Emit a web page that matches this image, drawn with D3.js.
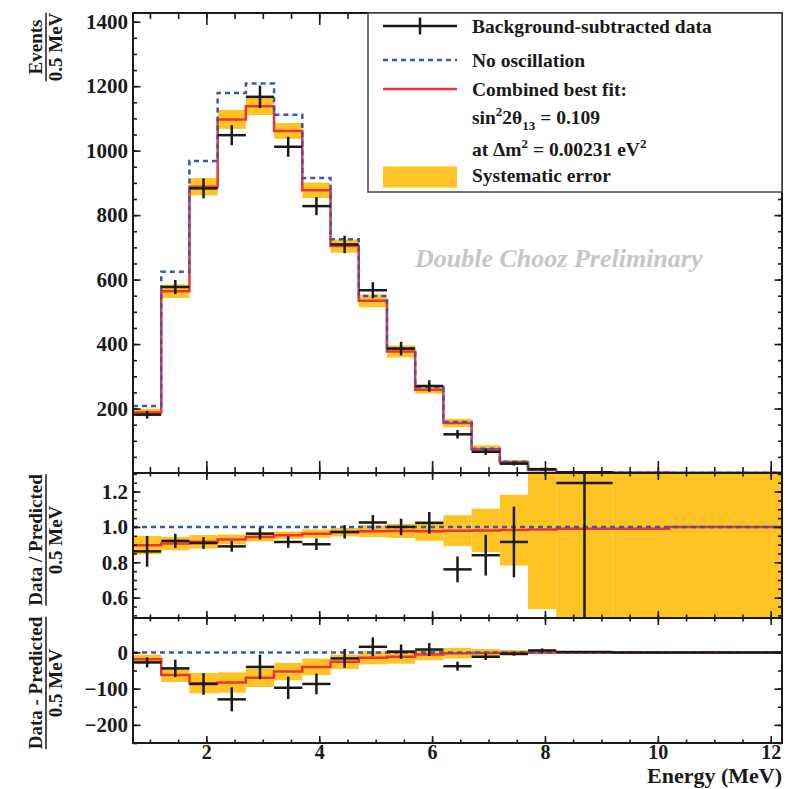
<!DOCTYPE html>
<html lang="en">
<head>
<meta charset="utf-8">
<script src="https://d3js.org/d3.v7.min.js"></script>
<style type="text/css">
body {
	margin: 0;
	background-color: white;
}
svg text {
	font-family: "Liberation Serif", "Times New Roman", serif;
	font-weight: bold;
	fill: #1a1a1a;
}
</style>
</head>
<body>

<svg id="chart" width="810" height="789"></svg>

<script type="text/javascript">

// bin edges in MeV (18 bins)
var binEdges = [0.7, 1.2, 1.7, 2.2, 2.7, 3.2, 3.7, 4.2, 4.7, 5.2, 5.7, 6.2, 6.7, 7.2, 7.7, 8.2, 9.2, 10.2, 12.2];

// top panel: events / 0.5 MeV
var dataEvents  = [181, 577, 883, 1048, 1167, 1012, 828, 709, 567, 386, 270, 120, 66, 29, 12, 2, 0, 0];
var dataErr     = [12, 22, 31, 31, 35, 31, 28, 27, 25, 21, 18, 13, 10, 6, 4, 3, 1, 1];
var noOsc       = [208, 624, 968, 1179, 1208, 1111, 915, 725, 549, 386, 267, 158, 75, 35, 10, 1.6, 0.6, 0.3];
var bestFit     = [188, 564, 888, 1097, 1138, 1061, 877, 704, 534, 377, 258, 155, 74, 33, 9, 1.5, 0.6, 0.3];
var systErr     = [11.5, 21, 27, 29.5, 27.5, 24.5, 24, 20.5, 19.5, 18.5, 11.5, 13, 12, 7.5, 4, 2, 1, 0.5];

// middle panel: data / predicted
var ratioData   = [0.862, 0.921, 0.909, 0.89, 0.962, 0.915, 0.902, 0.972, 1.025, 1.0, 1.023, 0.76, 0.84, 0.915, null, 1.249, null, null];
var ratioErr    = [0.087, 0.04, 0.033, 0.03, 0.033, 0.033, 0.033, 0.038, 0.042, 0.047, 0.061, 0.073, 0.115, 0.2, null, 5, null, null];
var ratioFit    = [0.897, 0.906, 0.916, 0.929, 0.943, 0.953, 0.962, 0.97, 0.976, 0.977, 0.976, 0.979, 0.98, 0.982, 0.985, 0.99, 0.99, 1.0];
var ratioSyst   = [0.052, 0.038, 0.038, 0.028, 0.025, 0.021, 0.024, 0.024, 0.033, 0.04, 0.054, 0.087, 0.123, 0.2, 0.45, 2, 2, 2];
var ratioNoOsc  = [1, 1, 1, 1, 1, 1, 1, 1, 1, 1, 1, 1, 1, 1, 1, 1, 1, 1];

// bottom panel: data - predicted
var diffData    = [-27.5, -44, -87, -129.5, -40, -97.5, -87, -16.5, 15.5, 2, 8, -38, -12, -4, 5.5, 1, 0, 0];
var diffErr     = [14, 24, 30, 33, 34, 31, 28.5, 26, 26, 20, 18, 12.4, 9, 5, 5.5, 3, 1, 1];
var diffFit     = [-19, -62.5, -85, -83, -70, -53, -40, -26, -15, -12, -5.5, -2, -1.5, -1, 0, 0, 0, 0];
var diffSyst    = [12.5, 19, 28, 28, 25.5, 24, 23, 20, 18, 19, 16, 14.6, 11, 7.5, 5, 1, 1, 1];
var diffNoOsc   = [0, 0, 0, 0, 0, 0, 0, 0, 0, 0, 0, 0, 0, 0, 0, 0, 0, 0];

// ticks
var xMajor = [2, 4, 6, 8, 10, 12];
var topYTicks = [200, 400, 600, 800, 1000, 1200, 1400];
var ratioYTicks = [0.6, 0.8, 1.0, 1.2];
var diffYTicks = [-200, -100, 0];

var YELLOW = "#fec423";
var RED = "#ee3338";
var BLUE = "#3f55b0";
var INK = "#1a1a1a";

var svg = d3.select("#chart");

var x = d3.scaleLinear().domain([0.7, 12.2]).range([133, 782]);

var panels = [
	{ id: "top", y: d3.scaleLinear().domain([0, 1427]).range([473, 13]),
	  data: dataEvents, err: dataErr, fit: bestFit, syst: systErr, ref: noOsc,
	  major: topYTicks, minorStep: 50, fmt: d3.format("d"), xLen: 12, xMin: 6 },
	{ id: "ratio", y: d3.scaleLinear().domain([0.485, 1.305]).range([618, 473]),
	  data: ratioData, err: ratioErr, fit: ratioFit, syst: ratioSyst, ref: ratioNoOsc,
	  major: ratioYTicks, minorStep: 0.05, fmt: d3.format(".1f"), xLen: 7, xMin: 3.5 },
	{ id: "diff", y: d3.scaleLinear().domain([-250, 95]).range([743, 618]),
	  data: diffData, err: diffErr, fit: diffFit, syst: diffSyst, ref: diffNoOsc,
	  major: diffYTicks, minorStep: 50, fmt: d3.format("d"), xLen: 7, xMin: 3.5 }
];

var bins = d3.range(binEdges.length - 1).map(function(i) {
	return { lo: binEdges[i], hi: binEdges[i + 1], mid: (binEdges[i] + binEdges[i + 1]) / 2, i: i };
});

function stepPoints(vals) {
	var pts = vals.map(function(v, i) { return [binEdges[i], v]; });
	pts.push([binEdges[binEdges.length - 1], vals[vals.length - 1]]);
	return pts;
}

panels.forEach(function(p, k) {
	var y = p.y;
	var y0 = y.range()[1], y1 = y.range()[0];

	svg.append("clipPath").attr("id", "clip-" + p.id)
		.append("rect").attr("x", 133).attr("y", y0).attr("width", 649).attr("height", y1 - y0);

	var g = svg.append("g").attr("clip-path", "url(#clip-" + p.id + ")");

	// systematic band
	g.selectAll("rect.band")
		.data(bins)
		.join("rect")
		.attr("class", "band")
		.attr("x", function(d) { return x(d.lo); })
		.attr("width", function(d) { return x(d.hi) - x(d.lo); })
		.attr("y", function(d) { return y(p.fit[d.i] + p.syst[d.i]); })
		.attr("height", function(d) { return y(p.fit[d.i] - p.syst[d.i]) - y(p.fit[d.i] + p.syst[d.i]); })
		.style("fill", YELLOW);

	var line = d3.line()
		.x(function(d) { return x(d[0]); })
		.y(function(d) { return y(d[1]); })
		.curve(d3.curveStepAfter);

	// best fit
	g.append("path")
		.attr("d", line(stepPoints(p.fit)))
		.style("fill", "none")
		.style("stroke", RED)
		.style("stroke-width", 2.5);

	// no oscillation
	g.append("path")
		.attr("d", line(stepPoints(p.ref)))
		.style("fill", "none")
		.style("stroke", BLUE)
		.style("stroke-width", 2.5)
		.style("stroke-dasharray", "5,4");

	// data crosses
	var pts = bins.filter(function(d) { return p.data[d.i] !== null; });
	g.selectAll("line.xerr")
		.data(pts)
		.join("line")
		.attr("class", "xerr")
		.attr("x1", function(d) { return x(d.lo); })
		.attr("x2", function(d) { return x(d.hi); })
		.attr("y1", function(d) { return y(p.data[d.i]); })
		.attr("y2", function(d) { return y(p.data[d.i]); })
		.style("stroke", INK)
		.style("stroke-width", 2.5);
	g.selectAll("line.yerr")
		.data(pts)
		.join("line")
		.attr("class", "yerr")
		.attr("x1", function(d) { return x(d.mid); })
		.attr("x2", function(d) { return x(d.mid); })
		.attr("y1", function(d) { return y(p.data[d.i] - p.err[d.i]); })
		.attr("y2", function(d) { return y(p.data[d.i] + p.err[d.i]); })
		.style("stroke", INK)
		.style("stroke-width", 2.5);

	// axes, ticks on all four sides pointing inward
	var minor = d3.range(Math.ceil(y.domain()[0] / p.minorStep) * p.minorStep, y.domain()[1], p.minorStep);
	var xMinor = d3.range(1, 12.01, 0.5);
	var isBottom = (k === panels.length - 1);

	function addAxis(axis, tx, ty) {
		var a = svg.append("g").attr("transform", "translate(" + tx + "," + ty + ")").call(axis);
		a.select(".domain").remove();
		a.selectAll("line").style("stroke", INK).style("stroke-width", 1.6);
		return a;
	}

	addAxis(d3.axisBottom(x).tickValues(xMinor).tickSize(-p.xMin).tickFormat(""), 0, y1);
	var xb = addAxis(d3.axisBottom(x).tickValues(xMajor).tickSize(-p.xLen).tickPadding(2)
		.tickFormat(isBottom ? d3.format("d") : ""), 0, y1);
	addAxis(d3.axisTop(x).tickValues(xMinor).tickSize(-p.xMin).tickFormat(""), 0, y0);
	addAxis(d3.axisTop(x).tickValues(xMajor).tickSize(-p.xLen).tickFormat(""), 0, y0);

	addAxis(d3.axisLeft(y).tickValues(minor).tickSize(-4).tickFormat(""), 133, 0);
	var yl = addAxis(d3.axisLeft(y).tickValues(p.major).tickSize(-7.5).tickPadding(5).tickFormat(p.fmt), 133, 0);
	addAxis(d3.axisRight(y).tickValues(minor).tickSize(-4).tickFormat(""), 782, 0);
	addAxis(d3.axisRight(y).tickValues(p.major).tickSize(-7.5).tickFormat(""), 782, 0);

	yl.selectAll("text").style("font-size", "21px").style("font-family", null).attr("fill", INK);
	xb.selectAll("text").style("font-size", "20px").style("font-family", null).attr("fill", INK);

	svg.append("rect")
		.attr("x", 133).attr("y", y0)
		.attr("width", 649).attr("height", y1 - y0)
		.style("fill", "none")
		.style("stroke", INK)
		.style("stroke-width", 2);
});

// y titles as stacked fractions
var yTitles = [
	{ num: "Events", den: "0.5 MeV", cy: 47 },
	{ num: "Data / Predicted", den: "0.5 MeV", cy: 540 },
	{ num: "Data - Predicted", den: "0.5 MeV", cy: 683 }
];
yTitles.forEach(function(t) {
	var g = svg.append("g").attr("transform", "translate(46," + t.cy + ") rotate(-90)");
	var n = g.append("text").attr("text-anchor", "middle").attr("y", -4)
		.style("font-size", "19px").text(t.num);
	var dnm = g.append("text").attr("text-anchor", "middle").attr("y", 16)
		.style("font-size", "19px").text(t.den);
	var w = Math.max(n.node().getComputedTextLength(), dnm.node().getComputedTextLength());
	g.append("line").attr("x1", -w / 2).attr("x2", w / 2).attr("y1", 0).attr("y2", 0)
		.style("stroke", INK).style("stroke-width", 1.5);
});

// x title
svg.append("text")
	.attr("x", 782).attr("y", 783)
	.attr("text-anchor", "end")
	.style("font-size", "22px")
	.text("Energy (MeV)");

// watermark
svg.append("text")
	.attr("x", 415).attr("y", 267)
	.style("font-size", "26px")
	.style("font-style", "italic")
	.style("fill", "#c6c6c6")
	.text("Double Chooz Preliminary");

// legend
var legend = svg.append("g");
legend.append("rect")
	.attr("x", 368).attr("y", 13).attr("width", 414).attr("height", 179)
	.style("fill", "white").style("stroke", "#444").style("stroke-width", 1.5);

var legRows = [26, 60, 89, 117, 149, 175];
var lx0 = 383, lx1 = 457, tx = 472;

legend.append("line").attr("x1", lx0).attr("x2", lx1).attr("y1", legRows[0]).attr("y2", legRows[0])
	.style("stroke", INK).style("stroke-width", 2.5);
legend.append("line").attr("x1", (lx0 + lx1) / 2).attr("x2", (lx0 + lx1) / 2)
	.attr("y1", legRows[0] - 8.5).attr("y2", legRows[0] + 8.5)
	.style("stroke", INK).style("stroke-width", 2.5);
legend.append("line").attr("x1", lx0).attr("x2", lx1).attr("y1", legRows[1]).attr("y2", legRows[1])
	.style("stroke", BLUE).style("stroke-width", 2.5).style("stroke-dasharray", "5,4");
legend.append("line").attr("x1", lx0).attr("x2", lx1).attr("y1", legRows[2]).attr("y2", legRows[2])
	.style("stroke", RED).style("stroke-width", 2.5);
legend.append("rect").attr("x", lx0).attr("y", 166.5).attr("width", lx1 - lx0).attr("height", 21)
	.style("fill", YELLOW);

function legText(row) {
	return legend.append("text").attr("x", tx).attr("y", legRows[row] + 7).style("font-size", "19.5px");
}
legText(0).text("Background-subtracted data");
legText(1).text("No oscillation");
legText(2).text("Combined best fit:");
var s = legText(3);
s.append("tspan").text("sin");
s.append("tspan").attr("dy", -8).style("font-size", "13px").text("2");
s.append("tspan").attr("dy", 8).text("2\u03b8");
s.append("tspan").attr("dy", 6).style("font-size", "13px").text("13");
s.append("tspan").attr("dy", -6).text(" = 0.109");
var m = legText(4);
m.append("tspan").text("at \u0394m");
m.append("tspan").attr("dy", -8).style("font-size", "13px").text("2");
m.append("tspan").attr("dy", 8).text(" = 0.00231 eV");
m.append("tspan").attr("dy", -8).style("font-size", "13px").text("2");
legText(5).text("Systematic error");

</script>
</body>
</html>
